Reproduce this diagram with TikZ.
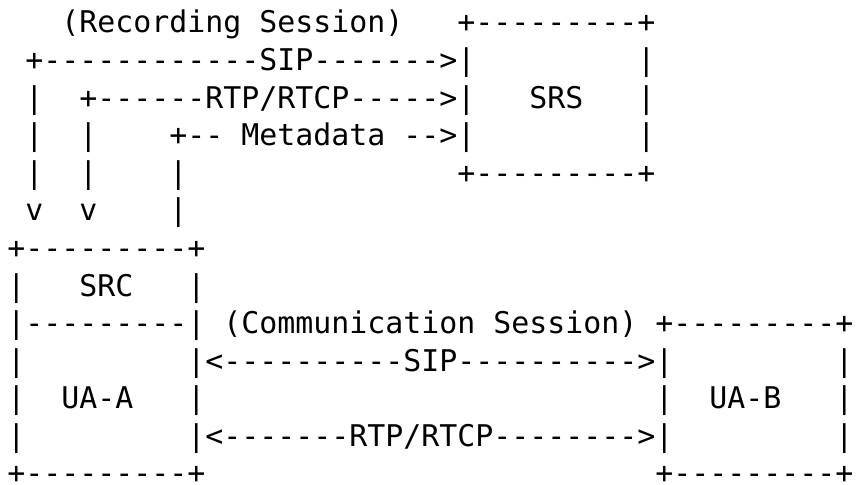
\documentclass[tikz,border=0pt]{standalone}
\usepackage{fontspec}
\setmonofont{DejaVu Sans Mono}
\begin{document}
\begin{tikzpicture}[x=9pt,y=-18.79pt,
  txt/.style={anchor=base west,inner sep=0pt,font=\ttfamily\fontsize{14.95pt}{18pt}\selectfont}]
 \useasboundingbox (-3.5pt,16.5pt) rectangle (424.5pt,-226pt);
 \node[txt] (rec) at (3,0) {(Recording Session)};
 \node[txt] (srstop) at (25,0) {+---------+};
 \node[txt] (sipup) at (1,1) {+------------SIP------->|};
 \node[txt] (srsr1) at (35,1) {|};
 \node[txt] (sipv1) at (1,2) {|};
 \node[txt] (rtpup) at (4,2) {+------RTP/RTCP----->|};
 \node[txt] (srs) at (29,2) {SRS};
 \node[txt] (srsr2) at (35,2) {|};
 \node[txt] (sipv2) at (1,3) {|};
 \node[txt] (rtpv1) at (4,3) {|};
 \node[txt] (meta) at (9,3) {+-- Metadata -->|};
 \node[txt] (srsr3) at (35,3) {|};
 \node[txt] (sipv3) at (1,4) {|};
 \node[txt] (rtpv2) at (4,4) {|};
 \node[txt] (metav1) at (9,4) {|};
 \node[txt] (srsbot) at (25,4) {+---------+};
 \node[txt] (siptip) at (1,5) {v};
 \node[txt] (rtptip) at (4,5) {v};
 \node[txt] (metav2) at (9,5) {|};

 \node[txt] (srctop) at (0,6) {+---------+};
 \node[txt] (srcl) at (0,7) {|};
 \node[txt] (src) at (4,7) {SRC};
 \node[txt] (srcr) at (10,7) {|};
 \node[txt] (srcsep) at (0,8) {|---------|};
 \node[txt] (comm) at (12,8) {(Communication Session)};
 \node[txt] (uabtop) at (36,8) {+---------+};
 \node[txt] (uaal1) at (0,9) {|};
 \node[txt] (sipdown) at (10,9) {|<----------SIP---------->|};
 \node[txt] (uabr1) at (46,9) {|};
 \node[txt] (uaal2) at (0,10) {|};
 \node[txt] (uaa) at (3,10) {UA-A};
 \node[txt] (uaar2) at (10,10) {|};
 \node[txt] (uabl2) at (36,10) {|};
 \node[txt] (uab) at (39,10) {UA-B};
 \node[txt] (uabr2) at (46,10) {|};
 \node[txt] (uaal3) at (0,11) {|};
 \node[txt] (rtpdown) at (10,11) {|<-------RTP/RTCP-------->|};
 \node[txt] (uabr3) at (46,11) {|};
 \node[txt] (uaabot) at (0,12) {+---------+};
 \node[txt] (uabbot) at (36,12) {+---------+};
\end{tikzpicture}
\end{document}
